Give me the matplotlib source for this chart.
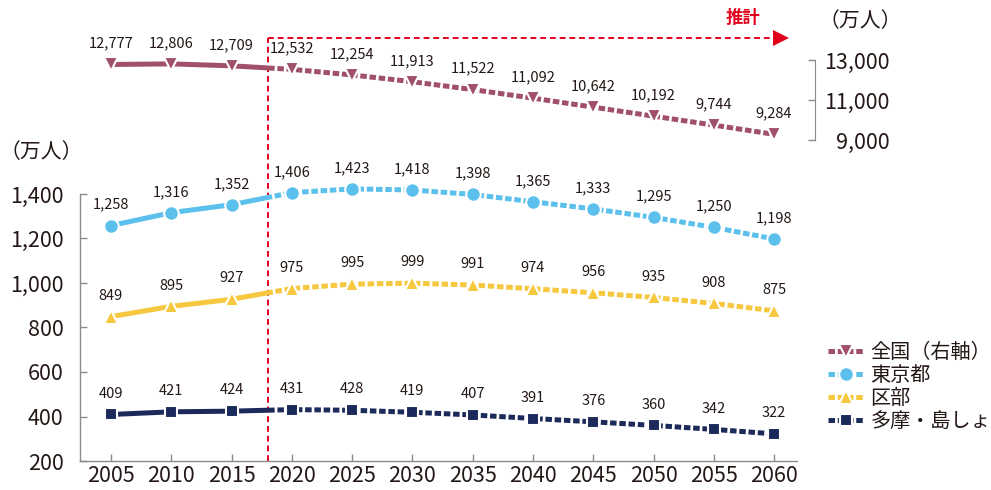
import matplotlib
matplotlib.use("Agg")
import matplotlib.pyplot as plt
from matplotlib.lines import Line2D
from matplotlib.patches import Rectangle
from matplotlib.transforms import blended_transform_factory

plt.rcParams["font.family"] = ["Noto Sans CJK JP", "DejaVu Sans"]

YEARS = [2005, 2010, 2015, 2020, 2025, 2030, 2035, 2040, 2045, 2050, 2055, 2060]
ESTIMATE_START = 2018

NATIONAL = [12777, 12806, 12709, 12532, 12254, 11913, 11522, 11092, 10642, 10192, 9744, 9284]
TOKYO = [1258, 1316, 1352, 1406, 1423, 1418, 1398, 1365, 1333, 1295, 1250, 1198]
KUBU = [849, 895, 927, 975, 995, 999, 991, 974, 956, 935, 908, 875]
TAMA = [409, 421, 424, 431, 428, 419, 407, 391, 376, 360, 342, 322]

LABELS = ["全国（右軸）", "東京都", "区部", "多摩・島しょ"]
LEFT_TICKS = [200, 400, 600, 800, 1000, 1200, 1400]
RIGHT_TICKS = [9000, 11000, 13000]

C_NAT = "#a0506a"
C_TOKYO = "#5bc0eb"
C_KUBU = "#f6c83f"
C_TAMA = "#1c2a5b"
C_RED = "#e2001d"
C_TEXT = "#231815"
C_AXIS = "#8a8a8a"

TICK_FS = 15.5

fig = plt.figure(figsize=(9.91, 4.90), dpi=100)
W, H = 991, 490


def px_axes(x0, y0, x1, y1):
    return fig.add_axes([x0 / W, 1 - y1 / H, (x1 - x0) / W, (y1 - y0) / H])


ax = px_axes(80, 194, 797, 461)
ax2 = px_axes(80, 60, 797, 140)
ax2.sharex(ax)
ax2.patch.set_visible(False)

ax.set_xlim(2002.43, 2061.9)
ax.set_ylim(200, 1400)
ax2.set_ylim(9000, 13000)


def draw_series(axis, values, color, marker, msize):
    trans = blended_transform_factory(axis.transData, axis.transAxes)
    solid, = axis.plot(YEARS, values, color=color, lw=3.6, solid_capstyle="butt", zorder=2)
    solid.set_clip_path(Rectangle((1990, -2), ESTIMATE_START - 1990, 5, transform=trans))
    dashed, = axis.plot(YEARS, values, color=color, lw=3.6, zorder=2)
    dashed.set_dashes((1.3, 0.55))
    dashed.set_clip_path(Rectangle((ESTIMATE_START, -2), 60, 5, transform=trans))
    axis.plot(YEARS, values, linestyle="none", marker=marker, markersize=msize,
              markerfacecolor=color, markeredgecolor="white", markeredgewidth=1.5,
              clip_on=False, zorder=3)
    for x, v in zip(YEARS, values):
        axis.annotate(f"{v:,}", (x, v), xytext=(0, 15), textcoords="offset points",
                      ha="center", va="center", fontsize=10.5, color=C_TEXT,
                      annotation_clip=False)


draw_series(ax2, NATIONAL, C_NAT, "v", 10)
draw_series(ax, TOKYO, C_TOKYO, "o", 10.5)
draw_series(ax, KUBU, C_KUBU, "^", 10.5)
draw_series(ax, TAMA, C_TAMA, "s", 9)

# main axis styling
for s in ["top", "right"]:
    ax.spines[s].set_visible(False)
for s in ["left", "bottom"]:
    ax.spines[s].set_color(C_AXIS)
    ax.spines[s].set_linewidth(1)
ax.set_xticks(YEARS)
ax.set_xticklabels([str(y) for y in YEARS])
ax.set_yticks(LEFT_TICKS)
ax.set_yticklabels([f"{v:,}" for v in LEFT_TICKS])
ax.tick_params(axis="both", direction="in", length=5, width=1, color=C_AXIS,
               labelcolor=C_TEXT, labelsize=TICK_FS)
ax.tick_params(axis="x", pad=3)
ax.tick_params(axis="y", pad=12)

# national axis styling
for s in ["top", "left", "bottom"]:
    ax2.spines[s].set_visible(False)
ax2.spines["right"].set_position(("outward", 13))
ax2.spines["right"].set_color(C_AXIS)
ax2.yaxis.tick_right()
ax2.set_yticks(RIGHT_TICKS)
ax2.set_yticklabels([f"{v:,}" for v in RIGHT_TICKS])
ax2.tick_params(axis="y", direction="in", length=5, width=1, color=C_AXIS,
                labelcolor=C_TEXT, labelsize=TICK_FS, pad=53.5)
for lab in ax2.get_yticklabels():
    lab.set_horizontalalignment("right")
ax2.tick_params(axis="x", which="both", bottom=False, labelbottom=False)

# estimate marker
ftrans = blended_transform_factory(ax.transData, fig.transFigure)
y_top = 1 - 38 / H
y_bot = 1 - 461 / H
ax.plot([ESTIMATE_START, ESTIMATE_START], [y_bot, y_top], transform=ftrans,
        color=C_RED, lw=1.4, dashes=(3, 2), clip_on=False, zorder=1)
ax.plot([ESTIMATE_START, 2060.2], [y_top, y_top], transform=ftrans,
        color=C_RED, lw=1.4, dashes=(3, 2), clip_on=False, zorder=1)
ax.plot([2060.6], [y_top], transform=ftrans, marker=">", markersize=11,
        color=C_RED, markeredgewidth=0, clip_on=False)
fig.text(743 / W, 1 - 18 / H, "推計", color=C_RED, fontsize=12.5, ha="center",
         va="center", fontweight="bold")

fig.text(41 / W, 1 - 152 / H, "（万人）", color=C_TEXT, fontsize=15, ha="center", va="center")
fig.text(860 / W, 1 - 21 / H, "（万人）", color=C_TEXT, fontsize=15, ha="center", va="center")

# legend
specs = [(C_NAT, "v", 10), (C_TOKYO, "o", 10.5), (C_KUBU, "^", 10.5), (C_TAMA, "s", 9)]
handles = [Line2D([0], [0], color=c, lw=3.6, dashes=(1.3, 0.55), marker=m, markersize=ms,
                  markerfacecolor=c, markeredgecolor="white", markeredgewidth=1.5)
           for c, m, ms in specs]
fig.legend(handles, LABELS, loc="upper left", bbox_to_anchor=(818 / W, 1 - 332 / H),
           frameon=False, fontsize=14.5, handlelength=1.75, handletextpad=0.35,
           labelspacing=0.1, borderpad=0, labelcolor=C_TEXT)

fig.savefig("out.png", dpi=100)
